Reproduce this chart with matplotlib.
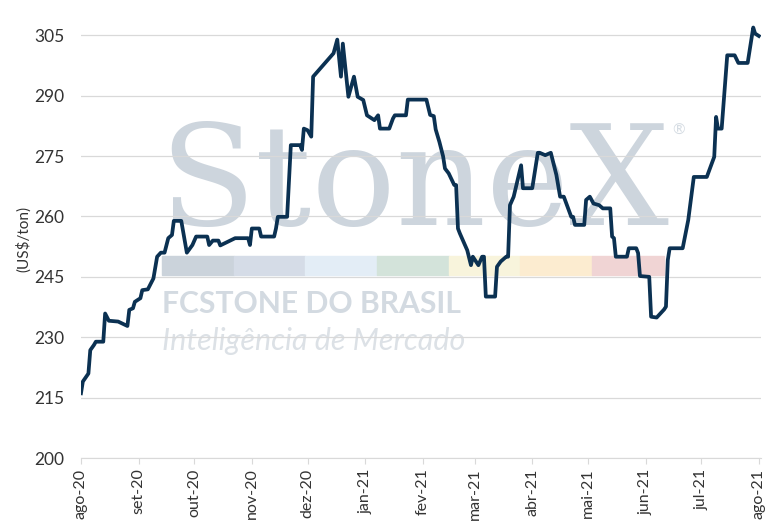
import numpy as np
import pandas as pd
import matplotlib
matplotlib.use("Agg")
import matplotlib.pyplot as plt
from matplotlib.patches import Rectangle

plt.rcParams['font.family'] = ['Lato', 'DejaVu Sans']

# preço (US$/ton)
datas = ["2020-08-01", "2020-08-02", "2020-08-05", "2020-08-06", "2020-08-08", "2020-08-09",
         "2020-08-13", "2020-08-14", "2020-08-16", "2020-08-21", "2020-08-26", "2020-08-27",
         "2020-08-29", "2020-08-30", "2020-09-02", "2020-09-03", "2020-09-06", "2020-09-09",
         "2020-09-11", "2020-09-13", "2020-09-15", "2020-09-17", "2020-09-19", "2020-09-20",
         "2020-09-24", "2020-09-27", "2020-09-30", "2020-10-02", "2020-10-08", "2020-10-09",
         "2020-10-11", "2020-10-14", "2020-10-15", "2020-10-19", "2020-10-23", "2020-10-30",
         "2020-10-31", "2020-11-01", "2020-11-05", "2020-11-06", "2020-11-13", "2020-11-14",
         "2020-11-15", "2020-11-20", "2020-11-22", "2020-11-27", "2020-11-28", "2020-11-29",
         "2020-12-01", "2020-12-03", "2020-12-04", "2020-12-15", "2020-12-17", "2020-12-19",
         "2020-12-20", "2020-12-23", "2020-12-26", "2020-12-28", "2020-12-31", "2021-01-02",
         "2021-01-06", "2021-01-08", "2021-01-09", "2021-01-14", "2021-01-16", "2021-01-17",
         "2021-01-23", "2021-01-24", "2021-02-03", "2021-02-05", "2021-02-07", "2021-02-08",
         "2021-02-10", "2021-02-12", "2021-02-13", "2021-02-15", "2021-02-18", "2021-02-19",
         "2021-02-20", "2021-02-21", "2021-02-25", "2021-02-27", "2021-02-28", "2021-03-03",
         "2021-03-05", "2021-03-06", "2021-03-07", "2021-03-12", "2021-03-13", "2021-03-15",
         "2021-03-18", "2021-03-19", "2021-03-20", "2021-03-22", "2021-03-26", "2021-03-27",
         "2021-04-01", "2021-04-04", "2021-04-05", "2021-04-08", "2021-04-11", "2021-04-14",
         "2021-04-16", "2021-04-18", "2021-04-22", "2021-04-23", "2021-04-24", "2021-04-29",
         "2021-04-30", "2021-05-02", "2021-05-04", "2021-05-07", "2021-05-09", "2021-05-13",
         "2021-05-14", "2021-05-15", "2021-05-16", "2021-05-22", "2021-05-23", "2021-05-27",
         "2021-05-28", "2021-05-29", "2021-06-03", "2021-06-04", "2021-06-07", "2021-06-11",
         "2021-06-12", "2021-06-13", "2021-06-14", "2021-06-21", "2021-06-24", "2021-06-27",
         "2021-07-04", "2021-07-08", "2021-07-09", "2021-07-10", "2021-07-12", "2021-07-15",
         "2021-07-19", "2021-07-21", "2021-07-26", "2021-07-29", "2021-07-30", "2021-08-01"]
precos = [216.1, 219.0, 221.0, 226.8, 228.1, 228.9,
          228.9, 235.9, 234.1, 233.9, 232.8, 236.8,
          237.2, 238.8, 239.7, 241.7, 241.9, 244.6,
          250.0, 251.0, 251.0, 254.6, 255.4, 258.9,
          258.9, 251.0, 252.9, 255.0, 255.0, 252.9,
          254.0, 254.0, 252.8, 253.7, 254.6, 254.6,
          252.9, 257.0, 257.0, 255.0, 255.0, 257.0,
          259.9, 259.9, 277.7, 277.7, 276.5, 281.8,
          281.4, 279.8, 294.7, 300.5, 303.9, 294.7,
          302.9, 289.7, 294.7, 289.7, 288.9, 285.1,
          283.9, 285.1, 281.8, 281.8, 284.3, 285.1,
          285.1, 289.0, 289.0, 285.2, 284.9, 281.6,
          278.5, 274.9, 271.9, 270.7, 267.8, 267.8,
          257.0, 255.8, 251.6, 247.9, 250.0, 247.9,
          250.0, 250.0, 240.1, 240.1, 247.5, 248.8,
          250.0, 250.0, 262.8, 264.9, 272.7, 267.0,
          267.0, 275.8, 275.8, 275.2, 275.8, 270.3,
          264.9, 264.9, 259.9, 259.9, 257.9, 257.9,
          264.1, 264.9, 263.2, 262.8, 262.0, 262.0,
          255.0, 254.6, 250.0, 250.0, 252.1, 252.1,
          250.9, 245.2, 245.0, 235.1, 234.9, 236.9,
          237.6, 249.2, 252.1, 252.1, 259.1, 269.8,
          269.8, 274.8, 284.7, 281.8, 281.8, 300.0,
          300.0, 298.1, 298.1, 306.9, 305.4, 304.8]
meses = ["ago-20", "set-20", "out-20", "nov-20", "dez-20", "jan-21", "fev-21",
         "mar-21", "abr-21", "mai-21", "jun-21", "jul-21", "ago-21"]
yticks = [200, 215, 230, 245, 260, 275, 290, 305]

datas = pd.to_datetime(datas)
ticks_x = pd.date_range("2020-08-01", "2021-08-01", freq="MS")

fig = plt.figure(figsize=(7.75, 5.29), dpi=100)
ax = fig.add_axes([0.1045, 0.134, 0.877, 0.830])
ax.patch.set_alpha(0)
ax.set_zorder(5)

# marca d'água (fica atrás da linha)
fig.text(0.206, 0.575, "StoneX", family="DejaVu Serif", fontsize=101,
         color="#cdd5dd", ha="left", va="baseline", zorder=0)
fig.text(0.868, 0.745, "®", fontsize=11, color="#d5dce3", zorder=0)
faixas = ["#cbd3db", "#d5dce7", "#e3edf6", "#d3e3da", "#f8f4dc", "#fcecd0", "#f0d4d4"]
for i, c in enumerate(faixas):
    fig.patches.append(Rectangle((0.209 + i * 0.0925, 0.480), 0.0925, 0.036,
                                 transform=fig.transFigure, color=c, zorder=0))
fig.text(0.209, 0.408, "FCSTONE DO BRASIL", fontsize=21.7,
         fontweight="bold", color="#d3dae1", ha="left", va="baseline", zorder=0)
fig.text(0.209, 0.338, "Inteligência de Mercado", fontsize=22,
         style="italic", color="#dce1e6", ha="left",
         va="baseline", zorder=0)

ax.plot(datas, precos, color="#0b3152", linewidth=2.7, solid_joinstyle="round", zorder=3)

ax.set_ylim(200, 309)
ax.set_xlim(pd.Timestamp("2020-08-01"), pd.Timestamp("2021-08-02"))
ax.set_yticks(yticks)
ax.set_xticks(ticks_x)
ax.set_xticklabels(meses, rotation=90)
ax.grid(axis="y", color="#d9d9d9", linewidth=0.9)
ax.set_axisbelow(True)
for s in ["top", "right", "left"]:
    ax.spines[s].set_visible(False)
ax.spines["bottom"].set_color("#d9d9d9")
ax.tick_params(axis="y", length=0, labelsize=12.5, labelcolor="#333333", pad=12)
ax.tick_params(axis="x", length=4, color="#d9d9d9", labelsize=11.5, labelcolor="#333333")
ax.set_ylabel("(US$/ton)", fontsize=11, color="#333333", labelpad=2)

fig.savefig("out.png", dpi=100)
